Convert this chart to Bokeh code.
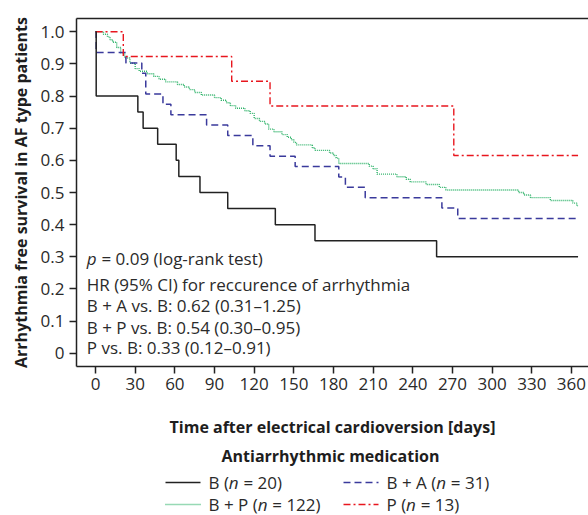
from bokeh.plotting import figure
from bokeh.models import LinearAxis, FixedTicker
from bokeh.layouts import column
from bokeh.core.properties import value
from bokeh.embed import file_html
from bokeh.resources import INLINE

# ---------------- data ----------------
days_B = [0, 0.5, 32, 36, 47, 61, 63, 79, 100, 136, 166, 258, 365]
surv_B = [1.0, 0.80, 0.75, 0.70, 0.65, 0.60, 0.55, 0.50, 0.45, 0.40, 0.35, 0.30, 0.30]

days_BA = [0, 0.5, 23, 35, 38, 51, 57, 84, 100, 119, 132, 151, 184, 189, 204, 262, 274, 365]
surv_BA = [1.0, 0.935, 0.903, 0.871, 0.806, 0.774, 0.742, 0.710, 0.677, 0.645, 0.613,
           0.581, 0.548, 0.516, 0.484, 0.452, 0.419, 0.419]

days_BP = [0, 6, 9, 11, 13, 16, 19, 22, 26, 30, 33, 39, 44, 48, 53, 62, 67, 71, 75, 80,
           90, 95, 99, 102, 106, 113, 117, 120, 124, 128, 131, 135, 141, 145, 148, 150,
           152, 164, 166, 177, 180, 182, 184, 207, 210, 213, 228, 235, 238, 250, 260,
           265, 320, 324, 329, 344, 361, 364, 365]
surv_BP = [1.0, 0.992, 0.984, 0.975, 0.967, 0.951, 0.934, 0.918, 0.902, 0.885, 0.877,
           0.869, 0.861, 0.852, 0.844, 0.836, 0.828, 0.820, 0.811, 0.803, 0.795, 0.787,
           0.779, 0.770, 0.762, 0.754, 0.746, 0.730, 0.721, 0.713, 0.697, 0.689, 0.680,
           0.672, 0.664, 0.656, 0.648, 0.639, 0.631, 0.623, 0.615, 0.607, 0.590, 0.582,
           0.574, 0.557, 0.549, 0.541, 0.533, 0.525, 0.516, 0.508, 0.500, 0.492, 0.484,
           0.475, 0.467, 0.459, 0.459]

days_P = [0, 21, 103, 132, 271, 365]
surv_P = [1.0, 0.923, 0.846, 0.769, 0.615, 0.615]

x_ticks = [0, 30, 60, 90, 120, 150, 180, 210, 240, 270, 300, 330, 360]
y_ticks = [0, 0.1, 0.2, 0.3, 0.4, 0.5, 0.6, 0.7, 0.8, 0.9, 1.0]
y_tick_labels = ["0", "0.1", "0.2", "0.3", "0.4", "0.5", "0.6", "0.7", "0.8", "0.9", "1.0"]

groups = ["B", "B + A", "B + P", "P"]
group_n = [20, 31, 122, 13]

p_text = "= 0.09 (log-rank test)"
hr_lines = ["HR (95% CI) for reccurence of arrhythmia",
            "B + A vs. B: 0.62 (0.31\u20131.25)",
            "B + P vs. B: 0.54 (0.30\u20130.95)",
            "P vs. B: 0.33 (0.12\u20130.91)"]

# ---------------- style ----------------
FONT = "Open Sans"
TXT = "#2a2a2a"
FS = 17
colors = {"B": "#222222", "B + A": "#3a3a9c", "B + P": "#2fb36a", "P": "#e8161e"}
dashes = {"B": "solid", "B + A": "7 4", "B + P": "1 1", "P": "7 3 2 3"}
widths = {"B": 1.5, "B + A": 1.5, "B + P": 1.4, "P": 1.4}

p = figure(width=588, height=440, x_range=(-14.4, 372.9), y_range=(-0.041, 1.041),
           output_backend="svg", toolbar_location=None,
           min_border_left=76, min_border_right=0, min_border_top=18, min_border_bottom=74)
p.outline_line_color = None
p.grid.visible = False
p.background_fill_color = "white"

series = {"B": (days_B, surv_B), "B + A": (days_BA, surv_BA),
          "B + P": (days_BP, surv_BP), "P": (days_P, surv_P)}
for g in ["B + P", "B + A", "P", "B"]:
    xs, ys = series[g]
    p.step(xs, ys, mode="after", line_color=colors[g], line_dash=dashes[g],
           line_width=widths[g])

# axes
for ax in (p.xaxis[0], p.yaxis[0]):
    ax.axis_line_color = "#222222"
    ax.axis_line_width = 1.5
    ax.major_tick_line_color = "#222222"
    ax.major_tick_line_width = 1.5
    ax.major_tick_out = 7
    ax.major_tick_in = 0
    ax.minor_tick_line_color = None
    ax.major_label_text_font = FONT
    ax.major_label_text_font_size = "%dpx" % FS
    ax.major_label_text_color = TXT
    ax.axis_label_text_font = FONT
    ax.axis_label_text_font_style = "bold"
    ax.axis_label_text_font_size = "16px"
    ax.axis_label_text_color = "#1e1e1e"

p.xaxis.ticker = FixedTicker(ticks=x_ticks)
p.xaxis.major_label_standoff = 4
p.xaxis.axis_label = "Time after electrical cardioversion [days]"
p.xaxis.axis_label_standoff = 23

p.yaxis.ticker = FixedTicker(ticks=y_ticks)
p.yaxis.major_label_overrides = {t: s for t, s in zip(y_ticks, y_tick_labels)}
p.yaxis.major_label_standoff = 5
p.yaxis.axis_label = "Arrhythmia free survival in AF type patients"
p.yaxis.axis_label_standoff = 6

top = LinearAxis(ticker=FixedTicker(ticks=[]), major_label_text_font_size="0px",
                 major_tick_line_color=None, minor_tick_line_color=None,
                 axis_line_color="#222222", axis_line_width=1.5)
p.add_layout(top, "above")

# approximate Open Sans advance widths (em) for positioning italic pieces
W = {" ": 0.26, "(": 0.29, ")": 0.29, "+": 0.57, "=": 0.57, "A": 0.633, "B": 0.648,
     "P": 0.603, "n": 0.60, "p": 0.60}


def tw(s, fs=FS):
    return sum(W.get(c, 0.57) for c in s) * fs


# in-plot annotation text
tx = -6.6
p.text(x=[tx], y=[0.294], text=["p"], text_font=value(FONT), text_font_style="italic",
       text_font_size="%dpx" % FS, text_color=TXT, text_baseline="middle", text_align="left")
p.text(x=[tx], y=[0.294], text=[p_text], x_offset=tw("p") + tw(" "), text_font=value(FONT),
       text_font_size="%dpx" % FS, text_color=TXT, text_baseline="middle", text_align="left")
p.text(x=[tx] * 4, y=[0.213, 0.148, 0.081, 0.017], text=hr_lines, text_font=value(FONT),
       text_font_size="%dpx" % FS, text_color=TXT, text_baseline="middle", text_align="left")

# ---------------- legend panel (frame aligned with the main frame: x 76..588) ----------------
q = figure(width=588, height=75, x_range=(76, 588), y_range=(0, 75),
           output_backend="svg", toolbar_location=None,
           x_axis_type=None, y_axis_type=None,
           min_border_left=76, min_border_right=0, min_border_top=0, min_border_bottom=0)
q.outline_line_color = None
q.grid.visible = False

q.text(x=[330], y=[60], text=["Antiarrhythmic medication"], text_font=value(FONT),
       text_font_style="bold", text_font_size="16px", text_color="#1e1e1e",
       text_align="center", text_baseline="middle")

col_x = [165, 343]
row_y = [33, 11]
order = [("B", 0, 0), ("B + A", 0, 1), ("B + P", 1, 0), ("P", 1, 1)]
for g, r, c in order:
    n = group_n[groups.index(g)]
    x0 = col_x[c]
    y0 = row_y[r]
    q.line([x0, x0 + 35], [y0, y0], line_color=colors[g], line_dash=dashes[g],
           line_width=widths[g])
    tx0 = x0 + 43
    pre = g + " ("
    suf = "= %d)" % n
    q.text(x=[tx0], y=[y0], text=[pre], text_font=value(FONT), text_font_size="%dpx" % FS,
           text_color=TXT, text_baseline="middle", text_align="left")
    q.text(x=[tx0], y=[y0], text=["n"], x_offset=tw(pre), text_font=value(FONT),
           text_font_style="italic", text_font_size="%dpx" % FS, text_color=TXT,
           text_baseline="middle", text_align="left")
    q.text(x=[tx0], y=[y0], text=[suf], x_offset=tw(pre) + tw("n") + tw(" "),
           text_font=value(FONT), text_font_size="%dpx" % FS, text_color=TXT,
           text_baseline="middle", text_align="left")

layout = column(p, q, spacing=0)
open("out.html", "w").write(file_html(layout, INLINE))
